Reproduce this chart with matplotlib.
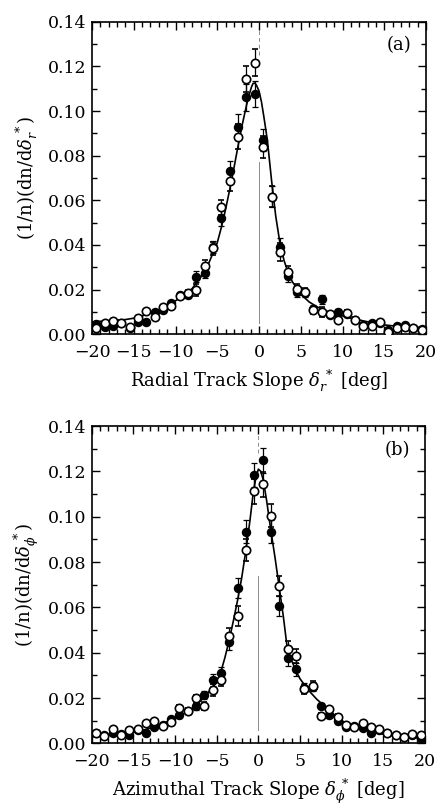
"""Two-panel slope distribution (radial / azimuthal) with fitted curves."""
import matplotlib

matplotlib.use("Agg")
import matplotlib.pyplot as plt  # noqa: E402
from matplotlib.ticker import MultipleLocator  # noqa: E402

plt.rcParams["font.family"] = ["DejaVu Serif"]
plt.rcParams["mathtext.fontset"] = "dejavuserif"

# bin centres, degrees
bins = [-19.5, -18.5, -17.5, -16.5, -15.5, -14.5, -13.5, -12.5, -11.5, -10.5,
        -9.5, -8.5, -7.5, -6.5, -5.5, -4.5, -3.5, -2.5, -1.5, -0.5,
        0.5, 1.5, 2.5, 3.5, 4.5, 5.5, 6.5, 7.5, 8.5, 9.5,
        10.5, 11.5, 12.5, 13.5, 14.5, 15.5, 16.5, 17.5, 18.5, 19.5]

# --- panel (a): radial ---
a_filled = [0.0045, 0.0033, 0.0037, 0.0050, 0.0030, 0.0055, 0.0055, 0.0100, 0.0108, 0.0138,
            0.0175, 0.0178, 0.0258, 0.0276, 0.0390, 0.0520, 0.0733, 0.0930, 0.1061, 0.1076,
            0.0870, 0.0616, 0.0390, 0.0262, 0.0188, 0.0186, 0.0115, 0.0156, 0.0088, 0.0098,
            0.0090, 0.0066, 0.0042, 0.0050, 0.0050, 0.0018, 0.0039, 0.0041, 0.0028, 0.0022]
a_open = [0.0030, 0.0051, 0.0060, 0.0051, 0.0031, 0.0075, 0.0105, 0.0078, 0.0120, 0.0126,
          0.0170, 0.0183, 0.0198, 0.0306, 0.0385, 0.0568, 0.0686, 0.0885, 0.1143, 0.1216,
          0.0840, 0.0616, 0.0368, 0.0278, 0.0203, 0.0190, 0.0107, 0.0101, 0.0090, 0.0066,
          0.0095, 0.0066, 0.0038, 0.0036, 0.0053, 0.0012, 0.0027, 0.0032, 0.0027, 0.0020]
a_err = [0.0008, 0.0008, 0.0008, 0.0008, 0.0008, 0.0009, 0.0010, 0.0010, 0.0011, 0.0012,
         0.0014, 0.0015, 0.0025, 0.0025, 0.0028, 0.0035, 0.0045, 0.0055, 0.0060, 0.0060,
         0.0050, 0.0048, 0.0040, 0.0028, 0.0020, 0.0018, 0.0015, 0.0022, 0.0012, 0.0014,
         0.0012, 0.0010, 0.0009, 0.0008, 0.0008, 0.0008, 0.0008, 0.0008, 0.0008, 0.0008]
a_fit_x = [-20, -18, -16, -15, -14, -13, -12, -11, -10, -9, -8, -7, -6, -5, -4.5, -4,
           -3.5, -3, -2.5, -2, -1.5, -1.2, -0.9, -0.7, -0.5, -0.3, 0, 0.3, 0.6, 1,
           1.5, 2, 2.5, 3, 3.5, 4, 5, 6, 7, 8, 9, 10, 11, 12, 13, 14, 15, 16, 17, 18, 20]
a_fit_y = [0.0056, 0.0060, 0.0066, 0.0072, 0.0082, 0.0095, 0.0110, 0.0128, 0.0150, 0.0175,
           0.0205, 0.0255, 0.0320, 0.0410, 0.0480, 0.0560, 0.0650, 0.0745, 0.0845, 0.0940,
           0.1025, 0.1070, 0.1108, 0.1124, 0.1125, 0.1115, 0.1090, 0.1040, 0.0970, 0.0870,
           0.0690, 0.0530, 0.0410, 0.0330, 0.0275, 0.0235, 0.0180, 0.0145, 0.0122, 0.0105,
           0.0092, 0.0082, 0.0072, 0.0064, 0.0056, 0.0048, 0.0042, 0.0038, 0.0035, 0.0033,
           0.0030]
a_zero_solid = [0.005, 0.077]
a_zero_dash = [0.125, 0.14]

# --- panel (b): azimuthal ---
b_filled = [0.0044, 0.0035, 0.0044, 0.0040, 0.0035, 0.0060, 0.0044, 0.0074, 0.0080, 0.0106,
            0.0125, 0.0142, 0.0163, 0.0213, 0.0280, 0.0309, 0.0447, 0.0685, 0.0934, 0.1184,
            0.1250, 0.0934, 0.0607, 0.0375, 0.0326, 0.0245, 0.0250, 0.0165, 0.0125, 0.0099,
            0.0074, 0.0076, 0.0066, 0.0047, 0.0060, 0.0044, 0.0037, 0.0030, 0.0038, 0.0022]
b_open = [0.0045, 0.0033, 0.0064, 0.0038, 0.0059, 0.0064, 0.0088, 0.0099, 0.0078, 0.0092,
          0.0155, 0.0142, 0.0199, 0.0165, 0.0236, 0.0279, 0.0473, 0.0562, 0.0853, 0.1113,
          0.1143, 0.1005, 0.0694, 0.0415, 0.0385, 0.0238, 0.0255, 0.0121, 0.0150, 0.0118,
          0.0081, 0.0074, 0.0091, 0.0074, 0.0063, 0.0044, 0.0037, 0.0026, 0.0041, 0.0037]
b_err = [0.0008, 0.0008, 0.0008, 0.0008, 0.0008, 0.0008, 0.0009, 0.0010, 0.0010, 0.0011,
         0.0012, 0.0013, 0.0015, 0.0018, 0.0025, 0.0028, 0.0035, 0.0045, 0.0050, 0.0055,
         0.0055, 0.0050, 0.0045, 0.0035, 0.0030, 0.0020, 0.0020, 0.0015, 0.0012, 0.0012,
         0.0010, 0.0009, 0.0009, 0.0008, 0.0008, 0.0008, 0.0008, 0.0008, 0.0008, 0.0008]
b_fit_x = [-20, -19, -18, -17, -16, -15, -14, -13, -12, -11, -10, -9, -8, -7, -6, -5,
           -4.5, -4, -3.5, -3, -2.5, -2, -1.5, -1, -0.6, -0.3, 0, 0.3, 0.6, 1,
           1.5, 2, 2.5, 3, 3.5, 4, 4.5, 5, 6, 7, 8, 9, 10, 11, 12, 13, 14, 15, 16, 17, 18, 19, 20]
b_fit_y = [0.0030, 0.0032, 0.0035, 0.0039, 0.0043, 0.0048, 0.0056, 0.0067, 0.0080, 0.0095,
           0.0112, 0.0130, 0.0152, 0.0185, 0.0225, 0.0270, 0.0315, 0.0380, 0.0455, 0.0540,
           0.0630, 0.0730, 0.0850, 0.0985, 0.1110, 0.1170, 0.1210, 0.1200, 0.1160, 0.1070,
           0.0940, 0.0820, 0.0690, 0.0560, 0.0410, 0.0365, 0.0320, 0.0285, 0.0235, 0.0195,
           0.0162, 0.0130, 0.0100, 0.0082, 0.0068, 0.0056, 0.0047, 0.0040, 0.0035, 0.0030,
           0.0027, 0.0024, 0.0022]
b_zero_solid = [0.006, 0.074]
b_zero_dash = [0.128, 0.14]

TICK_FS = 12.5
LABEL_FS = 13


def _panel(ax, filled, opened, err, fit_x, fit_y, zsolid, zdash, tag, xlabel, ylabel):
    ax.plot([0, 0], zsolid, color="0.55", lw=0.7, zorder=1)
    ax.plot([0, 0], zdash, color="0.55", lw=0.7, ls=(0, (4, 3)), zorder=1)
    ax.plot(fit_x, fit_y, color="black", lw=1.2, zorder=2)
    ax.errorbar(bins, filled, yerr=err, fmt="o", ms=5.8, mfc="black", mec="black",
                ecolor="black", elinewidth=0.9, capsize=2.2, capthick=0.9, zorder=3)
    ax.errorbar(bins, opened, yerr=err, fmt="o", ms=6.0, mfc="white", mec="black",
                mew=1.2, ecolor="black", elinewidth=0.9, capsize=2.2, capthick=0.9, zorder=4)
    ax.set_xlim(-20, 20)
    ax.set_ylim(0, 0.14)
    ax.xaxis.set_major_locator(MultipleLocator(5))
    ax.xaxis.set_minor_locator(MultipleLocator(1))
    ax.yaxis.set_major_locator(MultipleLocator(0.02))
    ax.yaxis.set_minor_locator(MultipleLocator(0.01))
    ax.yaxis.set_major_formatter(lambda v, _: f"{v:.2f}")
    ax.tick_params(which="both", direction="in", top=True, right=True, width=1.0)
    ax.tick_params(which="major", length=6)
    ax.tick_params(which="minor", length=3.5)
    ax.tick_params(axis="x", labelsize=TICK_FS, pad=7)
    ax.tick_params(axis="y", labelsize=TICK_FS, pad=4)
    for s in ax.spines.values():
        s.set_linewidth(1.2)
    ax.text(0.955, 0.925, tag, transform=ax.transAxes, ha="right", va="center",
            fontsize=LABEL_FS)
    ax.set_xlabel(xlabel, fontsize=LABEL_FS, labelpad=5)
    ax.set_ylabel(ylabel, fontsize=LABEL_FS, va="center")
    # same x for both panels regardless of the subscript's descender
    ax.yaxis.set_label_coords(-0.195, 0.5)


fig = plt.figure(figsize=(4.4, 8.1), dpi=100)
ax_a = fig.add_axes([0.2091, 0.5873, 0.7591, 0.3859])
ax_b = fig.add_axes([0.2084, 0.0823, 0.7575, 0.3917])

_panel(ax_a, a_filled, a_open, a_err, a_fit_x, a_fit_y, a_zero_solid, a_zero_dash, "(a)",
       r"Radial Track Slope $\delta_r^{\,*}$ [deg]", r"(1/n)(dn/d$\delta_r^{\,*}$)")
_panel(ax_b, b_filled, b_open, b_err, b_fit_x, b_fit_y, b_zero_solid, b_zero_dash, "(b)",
       r"Azimuthal Track Slope $\delta_\phi^{\,*}$ [deg]", r"(1/n)(dn/d$\delta_\phi^{\,*}$)")

fig.savefig("out.png", dpi=100)
